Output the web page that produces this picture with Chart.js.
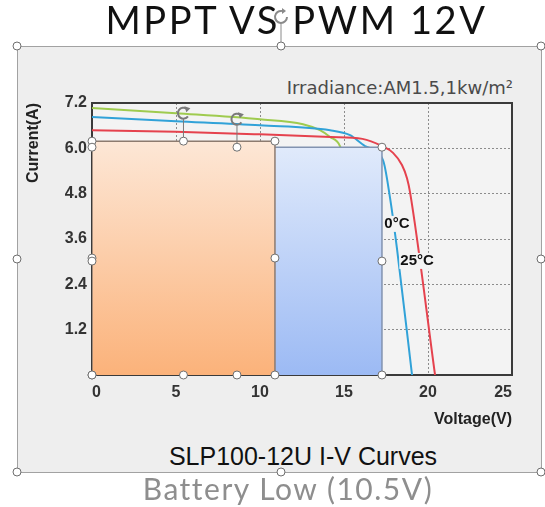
<!DOCTYPE html>
<html>
<head>
<meta charset="utf-8">
<script src="https://cdn.jsdelivr.net/npm/chart.js@4.4.1/dist/chart.umd.min.js"></script>
<style>
html,body{margin:0;padding:0;background:#ffffff;}
#wrap{position:relative;width:545px;height:507px;overflow:hidden;background:#fff;}
#frame{position:absolute;left:17px;top:46px;width:525px;height:427px;box-sizing:border-box;background:#eeeeee;border:1px solid #a2a2a2;}
.txt{position:absolute;white-space:nowrap;}
#title{left:24px;width:545px;top:0px;text-align:center;font-family:Lato,"Open Sans",sans-serif;font-size:38px;line-height:38px;letter-spacing:2.6px;color:#111;}
#irr{right:32px;top:77px;font-family:"DejaVu Sans",sans-serif;font-size:18px;line-height:22px;color:#4a4a4a;}
#sub{left:0;width:606px;top:442px;text-align:center;font-family:"Liberation Sans",Arial,sans-serif;font-size:25px;line-height:28px;color:#111;}
#bat{left:0;width:576px;top:471px;text-align:center;font-family:Lato,"Open Sans",sans-serif;font-size:30px;line-height:34px;letter-spacing:1.5px;color:#8e8e8e;}
#c{position:absolute;left:0;top:0;}
#handles{position:absolute;left:0;top:0;}
</style>
</head>
<body>
<div id="wrap">
  <div id="frame"></div>
  <div class="txt" id="irr">Irradiance:AM1.5,1kw/m²</div>
  <div class="txt" id="sub">SLP100-12U I-V Curves</div>
  <canvas id="c" width="545" height="507"></canvas>
  <div class="txt" id="title">MPPT VS PWM 12V</div>
  <div class="txt" id="bat">Battery Low (10.5V)</div>
  <svg id="handles" width="545" height="507">
    <g fill="#ffffff" stroke="#6e6e6e" stroke-width="1">
      <circle cx="17" cy="46" r="4"/><circle cx="281" cy="46" r="4"/><circle cx="541" cy="46" r="4"/>
      <circle cx="17" cy="259" r="4"/><circle cx="541" cy="259" r="4"/>
      <circle cx="17" cy="472" r="4"/><circle cx="281" cy="472" r="4"/><circle cx="541" cy="472" r="4"/>
    </g>
    <line x1="281" y1="42" x2="281" y2="24" stroke="#8a8a8a" stroke-width="1"/>
    <path d="M287 17 A6 6 0 1 1 282 11" fill="none" stroke="#8a8a8a" stroke-width="2"/>
    <path d="M282 8 L286 11 L282 14 Z" fill="#8a8a8a"/>
  </svg>
</div>
<script>
// ---- data ----
const xTicks = [0, 5, 10, 15, 20, 25];
const yTicks = [0, 1.2, 2.4, 3.6, 4.8, 6.0, 7.2];

const greenVoltage = [0, 5, 10, 12.56, 13.57, 14.17, 14.76, 15.4, 16.0, 16.6];
const greenCurrent = [7.07, 6.93, 6.77, 6.64, 6.48, 6.30, 6.06, 5.0, 3.0, 0];

const blueVoltage = [0, 5, 10, 14.17, 15.36, 16.25, 17.32, 17.74, 18.15, 19.05];
const blueCurrent = [6.83, 6.72, 6.61, 6.48, 6.35, 6.06, 5.69, 4.69, 3.36, 0];

const redVoltage = [0, 5, 10, 14.2, 16.1, 17.26, 17.92, 18.45, 18.75, 18.93, 20.42];
const redCurrent = [6.48, 6.44, 6.37, 6.30, 6.25, 6.06, 5.88, 5.56, 5.21, 4.84, 0];

const boxNames = ['PWM', 'MPPT'];
const boxVoltage = [10.89, 17.26];
const boxCurrent = [6.19, 6.03];

const tempLabels = ['0°C', '25°C'];
const tempLabelVoltage = [18.15, 19.35];
const tempLabelCurrent = [4.0, 3.02];

// ---- helpers ----
const pts = (vs, is) => vs.map((v, k) => ({x: v, y: is[k]}));
const boxPts = (k) => [{x: 0, y: 0}, {x: 0, y: boxCurrent[k]}, {x: boxVoltage[k], y: boxCurrent[k]}, {x: boxVoltage[k], y: 0}];
function boxGradient(k, top, bottom) {
  return (ctx) => {
    const chart = ctx.chart;
    if (!chart.chartArea || !chart.scales.y) return top;
    const ys = chart.scales.y;
    const g = chart.ctx.createLinearGradient(0, ys.getPixelForValue(boxCurrent[k]), 0, ys.getPixelForValue(0));
    g.addColorStop(0, top);
    g.addColorStop(1, bottom);
    return g;
  };
}
const tickFont = {family: '"Liberation Sans", Arial, sans-serif', size: 16, weight: 'bold'};
const gridColor = (ctx) => {
  const v = ctx.tick ? ctx.tick.value : null;
  return (v === 0 || v === 25 || v === 7.2) ? 'rgba(0,0,0,0)' : '#8c8c8c';
};

const overlay = {
  id: 'overlay',
  beforeDraw(chart) {
    const {ctx, chartArea: a} = chart;
    ctx.save();
    ctx.fillStyle = '#f3f3f3';
    ctx.fillRect(a.left, a.top, a.right - a.left, a.bottom - a.top);
    ctx.restore();
  },
  beforeDatasetsDraw(chart) {
    const {ctx, chartArea: a} = chart;
    ctx.save();
    ctx.strokeStyle = '#3a3a3a';
    ctx.lineWidth = 2;
    ctx.strokeRect(a.left, a.top, a.right - a.left, a.bottom - a.top);
    ctx.restore();
  },
  afterDatasetsDraw(chart) {
    const {ctx, scales: {x, y}} = chart;
    ctx.save();
    // temperature labels
    ctx.font = 'bold 15px "Liberation Sans", Arial, sans-serif';
    ctx.textAlign = 'center';
    ctx.textBaseline = 'middle';
    tempLabels.forEach((t, k) => {
      const px = x.getPixelForValue(tempLabelVoltage[k]);
      const py = y.getPixelForValue(tempLabelCurrent[k]);
      const w = ctx.measureText(t).width;
      ctx.fillStyle = '#f3f3f3';
      ctx.fillRect(px - w / 2 - 1, py - 8, w + 2, 16);
      ctx.fillStyle = '#111';
      ctx.fillText(t, px, py);
    });
    // selection handles of the two boxes
    boxVoltage.forEach((v, k) => {
      const xs = [0, v / 2, v].map(q => x.getPixelForValue(q));
      const ys = [boxCurrent[k], boxCurrent[k] / 2, 0].map(q => y.getPixelForValue(q));
      ctx.strokeStyle = '#7a7a7a';
      ctx.lineWidth = 1;
      ctx.beginPath();
      ctx.moveTo(xs[1], ys[0]);
      ctx.lineTo(xs[1], ys[0] - 22);
      ctx.stroke();
      ctx.lineWidth = 2;
      ctx.beginPath();
      ctx.arc(xs[1], ys[0] - 28, 5.5, 0.2 * Math.PI, 1.75 * Math.PI);
      ctx.stroke();
      ctx.fillStyle = '#7a7a7a';
      ctx.beginPath();
      const ax = xs[1] + 5.5 * Math.cos(1.75 * Math.PI), ay = ys[0] - 28 + 5.5 * Math.sin(1.75 * Math.PI);
      ctx.moveTo(ax - 3, ay - 3); ctx.lineTo(ax + 3, ay - 1); ctx.lineTo(ax - 1, ay + 3); ctx.closePath();
      ctx.fill();
      ctx.lineWidth = 1;
      ctx.strokeStyle = '#707070';
      ctx.fillStyle = '#ffffff';
      for (let a = 0; a < 3; a++) {
        for (let b = 0; b < 3; b++) {
          if (a === 1 && b === 1) continue;
          ctx.beginPath();
          ctx.arc(xs[a], ys[b], 4, 0, 2 * Math.PI);
          ctx.fill();
          ctx.stroke();
        }
      }
    });
    ctx.restore();
  }
};

new Chart(document.getElementById('c'), {
  type: 'line',
  data: {
    datasets: [
      {label: boxNames[0], data: boxPts(0), borderColor: '#8d7b6f', borderWidth: 1.5, tension: 0,
       fill: 'origin', backgroundColor: boxGradient(0, '#fde7d6', '#fbb27a')},
      {label: boxNames[1], data: boxPts(1), borderColor: '#8293b0', borderWidth: 1.5, tension: 0,
       fill: 'origin', backgroundColor: boxGradient(1, '#e0eafb', '#9cbaf4')},
      {label: 'I-V curve (red)', data: pts(redVoltage, redCurrent), borderColor: '#e5424e', borderWidth: 2,
       cubicInterpolationMode: 'monotone', fill: false},
      {label: 'I-V curve (blue)', data: pts(blueVoltage, blueCurrent), borderColor: '#31a2d8', borderWidth: 2,
       cubicInterpolationMode: 'monotone', fill: false},
      {label: 'I-V curve (green)', data: pts(greenVoltage, greenCurrent), borderColor: '#9fcb4f', borderWidth: 2,
       cubicInterpolationMode: 'monotone', fill: false}
    ]
  },
  options: {
    responsive: false,
    animation: false,
    devicePixelRatio: 1,
    layout: {padding: {left: 0, top: 103, right: 33, bottom: 76}},
    elements: {point: {radius: 0, hoverRadius: 0}},
    plugins: {legend: {display: false}, tooltip: {enabled: false}},
    scales: {
      x: {
        type: 'linear', min: 0, max: 25,
        afterBuildTicks: (s) => { s.ticks = xTicks.map(v => ({value: v})); },
        afterFit: (s) => { s.height = 56; },
        ticks: {align: 'inner', padding: 8, font: tickFont, color: '#333', maxRotation: 0, autoSkip: false},
        grid: {color: gridColor, lineWidth: 1, drawTicks: false},
        border: {display: false, dash: [2, 2]},
        title: {display: true, text: 'Voltage(V)', align: 'end', color: '#222',
                font: {family: '"Liberation Sans", Arial, sans-serif', size: 16, weight: 'bold'},
                padding: {top: 0, bottom: 2}}
      },
      y: {
        type: 'linear', min: 0, max: 7.2,
        afterBuildTicks: (s) => { s.ticks = yTicks.map(v => ({value: v})); },
        afterFit: (s) => { s.width = 92; },
        ticks: {padding: 5, font: tickFont, color: '#333', autoSkip: false,
                callback: (v) => v === 0 ? '' : Number(v).toFixed(1)},
        grid: {color: gridColor, lineWidth: 1, drawTicks: false},
        border: {display: false, dash: [2, 2]},
        title: {display: true, text: 'Current(A)', align: 'end', color: '#222',
                font: {family: '"Liberation Sans", Arial, sans-serif', size: 16, weight: 'bold'},
                padding: {top: 24, bottom: 0}}
      }
    }
  },
  plugins: [overlay]
});
</script>
</body>
</html>
